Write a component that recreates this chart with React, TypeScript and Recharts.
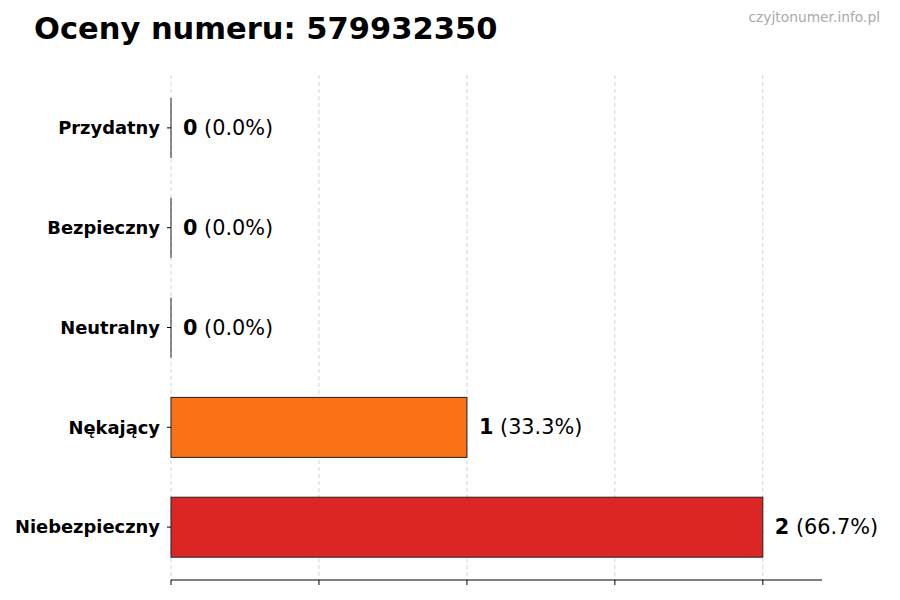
import { BarChart, Bar, XAxis, YAxis, CartesianGrid, LabelList, Cell } from "recharts"

const categories = ["Przydatny", "Bezpieczny", "Neutralny", "Nękający", "Niebezpieczny"]
const counts = [0, 0, 0, 1, 2]
const barColors = ["#16a34a", "#22c55e", "#9ca3af", "#f97316", "#dc2626"]
const xTicks = [0, 0.5, 1, 1.5, 2]
const xMax = 2.2

const total = counts.reduce((a, b) => a + b, 0)
const chartData = categories.map((name, i) => ({
    name,
    value: counts[i],
    pct: total ? ((counts[i] / total) * 100).toFixed(1) : "0.0",
}))

const FONT = "'DejaVu Sans', sans-serif"

const BarShape = (props: any) => {
    const { x, y, width, height, fill } = props
    if (!width) {
        return <line x1={x} x2={x} y1={y} y2={y + height} stroke="#222" strokeWidth={1} />
    }
    return <rect x={x} y={y} width={width} height={height} fill={fill} stroke="#222" strokeWidth={1} />
}

const ValueLabel = (props: any) => {
    const { x, y, width, height, index } = props
    const d = chartData[index]
    return (
        <text x={x + width + 12} y={y + height / 2} dominantBaseline="central" fontFamily={FONT} fontSize={20.8} fill="#000">
            <tspan fontWeight="bold">{d.value}</tspan>
            <tspan> ({d.pct}%)</tspan>
        </text>
    )
}

const NoTick = () => <g />

// grid only at the tick values, not at the domain end
const gridX = ({ xAxis, offset }: any) => {
    const s = xAxis?.scale
    const f =
        typeof s === "function"
            ? (v: number) => s(v)
            : s && typeof s.map === "function"
            ? (v: number) => s.map(v)
            : (v: number) => offset.left + (v / xMax) * offset.width
    return xTicks.map(t => f(t))
}

export default function App() {
    return (
        <div style={{ position: "absolute", left: 0, top: 0, width: 900, height: 600, background: "#fff", fontFamily: FONT }}>
            <div style={{ position: "absolute", left: 34, top: 11, fontSize: 30.5, fontWeight: "bold", color: "#000", whiteSpace: "nowrap" }}>
                Oceny numeru: 579932350
            </div>
            <div style={{ position: "absolute", right: 20, top: 9, fontSize: 13.8, color: "#aaa", whiteSpace: "nowrap" }}>
                czyjtonumer.info.pl
            </div>
            <BarChart
                width={900}
                height={600}
                data={chartData}
                layout="vertical"
                margin={{ top: 75, right: 78, bottom: 0, left: 0 }}
                barSize={60}
            >
                <CartesianGrid horizontal={false} stroke="#d4d4d4" strokeDasharray="4 3" verticalCoordinatesGenerator={gridX} />
                <XAxis
                    type="number"
                    domain={[0, xMax]}
                    ticks={xTicks}
                    tick={NoTick}
                    tickSize={5}
                    height={20}
                    axisLine={{ stroke: "#000" }}
                    tickLine={{ stroke: "#000" }}
                />
                <YAxis
                    type="category"
                    dataKey="name"
                    width={171}
                    axisLine={false}
                    tickSize={4}
                    tickMargin={7}
                    tickLine={{ stroke: "#000" }}
                    padding={{ top: 3, bottom: 3 }}
                    tick={{ fontFamily: FONT, fontSize: 17.9, fontWeight: "bold", fill: "#000" }}
                />
                <Bar dataKey="value" shape={BarShape} isAnimationActive={false}>
                    {chartData.map((_, i) => (
                        <Cell key={i} fill={barColors[i]} />
                    ))}
                    <LabelList dataKey="value" content={ValueLabel} />
                </Bar>
            </BarChart>
        </div>
    )
}
